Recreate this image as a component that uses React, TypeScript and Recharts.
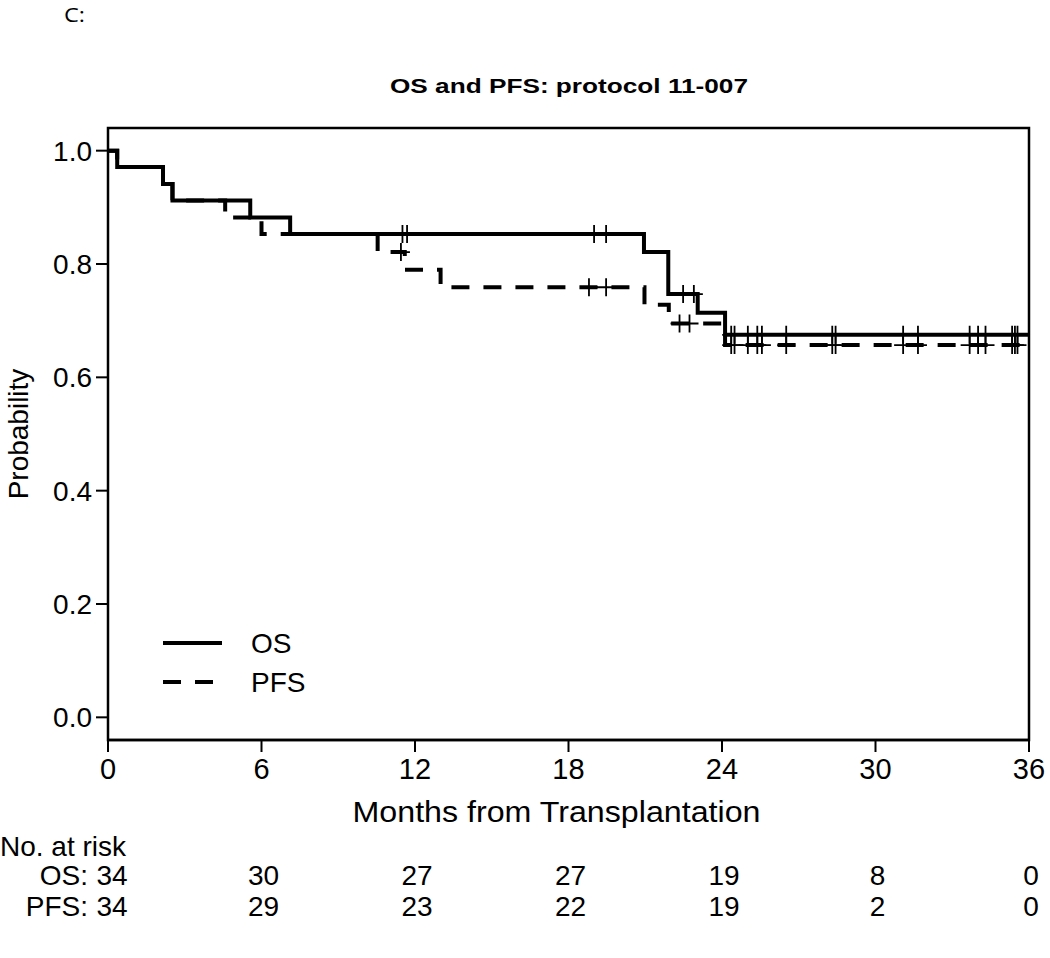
import React from "react";
import { ComposedChart, Line, Scatter, XAxis, YAxis, ReferenceArea, Label } from "recharts";

// Kaplan-Meier steps
const osTimes = [0, 0.36, 2.15, 2.52, 5.56, 7.12, 20.95, 21.9, 23.05, 24.12, 36];
const osSurv = [1.0, 0.971, 0.941, 0.912, 0.882, 0.853, 0.821, 0.747, 0.714, 0.675, 0.675];
const pfsTimes = [0, 0.36, 2.15, 2.52, 4.58, 6.0, 10.54, 11.6, 13.0, 20.97, 21.92, 24.12, 36];
const pfsSurv = [1.0, 0.971, 0.941, 0.912, 0.882, 0.853, 0.821, 0.79, 0.759, 0.728, 0.695, 0.657, 0.657];

// censoring times
const lateCensor = [24.36, 24.49, 25.01, 25.38, 25.56, 26.51, 28.31, 28.44, 31.08, 31.66, 33.68, 34.01, 34.3, 35.34, 35.45, 35.55];
const osCensor = [11.51, 11.69, 19.0, 19.47, 22.48, 22.9, ...lateCensor];
const pfsCensor = [11.45, 18.8, 19.47, 22.34, 22.73, ...lateCensor];

const monthTicks = [0, 6, 12, 18, 24, 30, 36];
const probTicks = [0, 0.2, 0.4, 0.6, 0.8, 1.0];
const osAtRisk = [34, 30, 27, 27, 19, 8, 0];
const pfsAtRisk = [34, 29, 23, 22, 19, 2, 0];

const FONT = "'Liberation Sans', Arial, sans-serif";

function survAt(times: number[], surv: number[], t: number) {
  let s = surv[0];
  for (let i = 0; i < times.length; i++) if (times[i] <= t) s = surv[i];
  return s;
}

const osData = osTimes.map((t, i) => ({ t, s: osSurv[i] }));
const pfsData = pfsTimes.map((t, i) => ({ t, s: pfsSurv[i] }));
const osMarks = osCensor.map((t) => ({ t, s: survAt(osTimes, osSurv, t) }));
const pfsMarks = pfsCensor.map((t) => ({ t, s: survAt(pfsTimes, pfsSurv, t) }));

const Plus = (props: any) => {
  const { cx, cy } = props;
  if (cx == null || cy == null) return null;
  return (
    <path
      d={`M${cx - 9},${cy}h18M${cx},${cy - 9}v18`}
      stroke="#000"
      strokeWidth={1.8}
      fill="none"
    />
  );
};

const riskTick = (label: string, counts: number[], header?: string) => (props: any) => {
  const { x, y, payload } = props;
  const i = monthTicks.indexOf(payload.value);
  return (
    <g fontFamily={FONT} fontSize={28} fill="#000">
      {header && i === 0 && (
        <text x={0} y={y + 24} textAnchor="start" fill="#000">
          {header}
        </text>
      )}
      <text x={i === 0 ? x + 4 : x + 2} y={y + 53} textAnchor="middle" fill="#000">
        {counts[i]}
      </text>
      {i === 0 && (
        <text x={x - 20} y={y + 53} textAnchor="end" fill="#000">
          {label}
        </text>
      )}
    </g>
  );
};

export default function App() {
  return (
    <div style={{ position: "absolute", left: 0, top: 0, width: 1050, height: 958, background: "#fff" }}>
      <svg width={1050} height={958} style={{ position: "absolute", left: 0, top: 0 }}>
        <text
          x={64}
          y={22}
          fontFamily="'Open Sans', sans-serif"
          fontSize={20}
          textLength={21}
          lengthAdjust="spacingAndGlyphs"
          fill="#000"
        >
          C:
        </text>
        <text
          x={569}
          y={93}
          textAnchor="middle"
          fontFamily={FONT}
          fontWeight="bold"
          fontSize={21}
          textLength={358}
          lengthAdjust="spacingAndGlyphs"
          fill="#000"
        >
          OS and PFS: protocol 11-007
        </text>
        <line x1={163} x2={222} y1={643} y2={643} stroke="#000" strokeWidth={4} />
        <line x1={163} x2={214} y1={682} y2={682} stroke="#000" strokeWidth={4} strokeDasharray="18 14" />
        <text x={251} y={653} fontFamily={FONT} fontSize={28} fill="#000">OS</text>
        <text x={251} y={692} fontFamily={FONT} fontSize={28} fill="#000">PFS</text>
      </svg>
      <div style={{ position: "absolute", left: 0, top: 0 }}>
        <ComposedChart
          width={1050}
          height={958}
          margin={{ top: 128, right: 21, left: 48, bottom: 64 }}
          style={{ fontFamily: FONT }}
        >
          <XAxis
            xAxisId="main"
            type="number"
            dataKey="t"
            domain={[0, 36]}
            ticks={monthTicks}
            allowDataOverflow
            height={92}
            tickSize={12}
            tickMargin={6}
            axisLine={{ stroke: "#000", strokeWidth: 2.5 }}
            tickLine={{ stroke: "#000", strokeWidth: 2 }}
            tick={{ fill: "#000", fontSize: 29, fontFamily: FONT }}
          >
            <Label
              value="Months from Transplantation"
              content={(p: any) => {
                const vb = p.viewBox;
                return (
                  <text
                    x={vb.x + vb.width / 2 - 12}
                    y={vb.y + 82}
                    textAnchor="middle"
                    fontFamily={FONT}
                    fontSize={30}
                    textLength={408}
                    lengthAdjust="spacingAndGlyphs"
                    fill="#000"
                  >
                    Months from Transplantation
                  </text>
                );
              }}
            />
          </XAxis>
          <XAxis
            xAxisId="os"
            type="number"
            dataKey="t"
            domain={[0, 36]}
            ticks={monthTicks}
            allowDataOverflow
            height={31}
            axisLine={false}
            tickLine={false}
            tickSize={0}
            tickMargin={0}
            tick={riskTick("OS:", osAtRisk, "No. at risk")}
          />
          <XAxis
            xAxisId="pfs"
            type="number"
            dataKey="t"
            domain={[0, 36]}
            ticks={monthTicks}
            allowDataOverflow
            height={31}
            axisLine={false}
            tickLine={false}
            tickSize={0}
            tickMargin={0}
            tick={riskTick("PFS:", pfsAtRisk)}
          />
          <YAxis
            type="number"
            domain={[-0.04, 1.04]}
            ticks={probTicks}
            allowDataOverflow
            width={60}
            tickSize={12}
            tickMargin={4}
            axisLine={false}
            tickLine={{ stroke: "#000", strokeWidth: 2 }}
            tick={{ fill: "#000", fontSize: 28, fontFamily: FONT }}
            tickFormatter={(v: number) => v.toFixed(1)}
          >
            <Label
              value="Probability"
              content={(p: any) => {
                const vb = p.viewBox;
                const cy = vb.y + vb.height / 2;
                return (
                  <text
                    x={28}
                    y={cy}
                    transform={`rotate(-90, 28, ${cy})`}
                    textAnchor="middle"
                    fontFamily={FONT}
                    fontSize={28}
                    fill="#000"
                  >
                    Probability
                  </text>
                );
              }}
            />
          </YAxis>
          <ReferenceArea
            xAxisId="main"
            x1={0}
            x2={36}
            y1={-0.04}
            y2={1.04}
            fill="none"
            stroke="#000"
            strokeWidth={2.5}
            ifOverflow="visible"
          />
          <Line
            xAxisId="main"
            data={pfsData}
            dataKey="s"
            type="stepAfter"
            stroke="#000"
            strokeWidth={4}
            strokeDasharray="18 14"
            dot={false}
            isAnimationActive={false}
          />
          <Line
            xAxisId="main"
            data={osData}
            dataKey="s"
            type="stepAfter"
            stroke="#000"
            strokeWidth={4}
            dot={false}
            isAnimationActive={false}
          />
          <Scatter xAxisId="main" data={pfsMarks} dataKey="s" shape={Plus} isAnimationActive={false} />
          <Scatter xAxisId="main" data={osMarks} dataKey="s" shape={Plus} isAnimationActive={false} />
        </ComposedChart>
      </div>
    </div>
  );
}
